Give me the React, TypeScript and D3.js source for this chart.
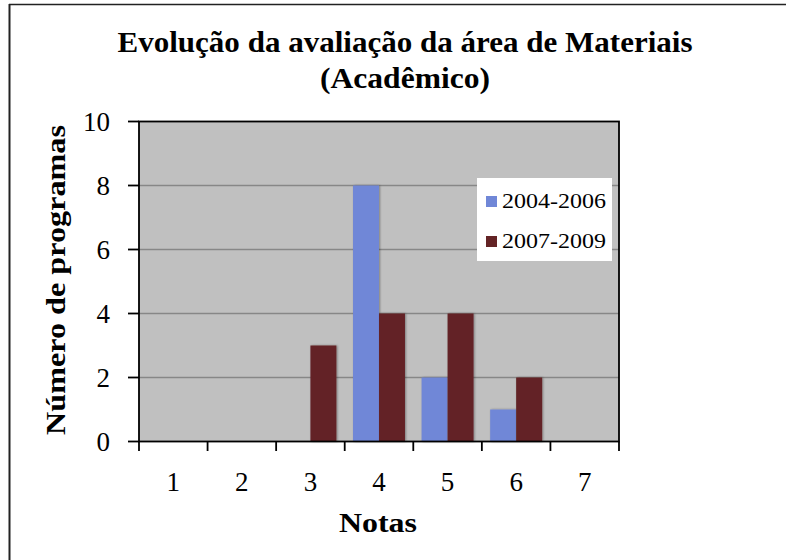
import React from "react";
import * as d3 from "d3";

const notas: string[] = ["1", "2", "3", "4", "5", "6", "7"];
const series: string[] = ["2004-2006", "2007-2009"];
const valores2004: number[] = [0, 0, 0, 8, 2, 1, 0];
const valores2007: number[] = [0, 0, 3, 4, 4, 2, 0];
const yTicks: number[] = [0, 2, 4, 6, 8, 10];
const colors: string[] = ["#7087d7", "#632325"];

const width = 786;
const height = 560;
const plot = { left: 139, right: 619, top: 121.5, bottom: 441.5 };
const font = "'Liberation Serif', 'Times New Roman', serif";

const x = d3.scaleBand<string>().domain(notas).range([plot.left, plot.right]).padding(0);
const x1 = d3
  .scaleBand<string>()
  .domain(series)
  .range([0, x.bandwidth()])
  .paddingInner(0)
  .paddingOuter(0.32);
const y = d3.scaleLinear().domain([0, 10]).range([plot.bottom, plot.top]);

const allValues = [valores2004, valores2007];

const App = () => {
  return (
    <svg
      width={width}
      height={height}
      style={{ position: "absolute", left: 0, top: 0, background: "white" }}
      fontFamily={font}
    >
      <defs>
        <filter id="shadow" x="-20%" y="-5%" width="140%" height="110%">
          <feDropShadow dx="1" dy="0" stdDeviation="1" floodColor="#000" floodOpacity="0.35" />
        </filter>
      </defs>

      {/* outer frame */}
      <line x1={9.5} x2={9.5} y1={4} y2={height} stroke="#222" strokeWidth={2} />
      <line x1={9} x2={width} y1={4.5} y2={4.5} stroke="#222" strokeWidth={1.5} />

      {/* title */}
      <text x={405} y={52} textAnchor="middle" fontSize={29} fontWeight="bold" textLength={575} lengthAdjust="spacingAndGlyphs">
        Evolução da avaliação da área de Materiais
      </text>
      <text x={405} y={88} textAnchor="middle" fontSize={29} fontWeight="bold" textLength={170} lengthAdjust="spacingAndGlyphs">
        (Acadêmico)
      </text>

      {/* plot background */}
      <rect
        x={plot.left}
        y={plot.top}
        width={plot.right - plot.left}
        height={plot.bottom - plot.top}
        fill="#c0c0c0"
      />

      {/* gridlines */}
      {yTicks
        .filter((t) => t > 0 && t < 10)
        .map((t) => (
          <line key={t} x1={plot.left} x2={plot.right} y1={y(t)} y2={y(t)} stroke="#878787" strokeWidth={1.5} />
        ))}

      {/* bars */}
      {notas.map((n, i) => (
        <g key={n} transform={`translate(${x(n)},0)`}>
          {series.map((s, j) => {
            const v = allValues[j][i];
            if (!v) return null;
            return (
              <rect
                key={s}
                x={x1(s)}
                y={y(v)}
                width={x1.bandwidth()}
                height={y(0) - y(v)}
                fill={colors[j]}
                filter="url(#shadow)"
              />
            );
          })}
        </g>
      ))}

      {/* plot frame */}
      <rect
        x={plot.left}
        y={plot.top}
        width={plot.right - plot.left}
        height={plot.bottom - plot.top}
        fill="none"
        stroke="#000"
        strokeWidth={1.8}
      />

      {/* y axis ticks + labels */}
      {yTicks.map((t) => (
        <g key={t}>
          <line x1={128} x2={plot.left} y1={y(t)} y2={y(t)} stroke="#000" strokeWidth={1.8} />
          <text x={110} y={y(t)} dy="0.34em" textAnchor="end" fontSize={27}>
            {t}
          </text>
        </g>
      ))}

      {/* x axis ticks + labels */}
      {[...notas.map((n) => x(n) as number), plot.right].map((px, i) => (
        <line key={i} x1={px} x2={px} y1={plot.bottom} y2={451} stroke="#000" strokeWidth={1.8} />
      ))}
      {notas.map((n) => (
        <text key={n} x={(x(n) as number) + x.bandwidth() / 2} y={491} textAnchor="middle" fontSize={27}>
          {n}
        </text>
      ))}

      {/* axis titles */}
      <text x={378} y={532} textAnchor="middle" fontSize={28} fontWeight="bold" textLength={78} lengthAdjust="spacingAndGlyphs">
        Notas
      </text>
      <text
        transform={`translate(65, 280) rotate(-90)`}
        textAnchor="middle"
        fontSize={28}
        fontWeight="bold"
        textLength={310}
        lengthAdjust="spacingAndGlyphs"
      >
        Número de programas
      </text>

      {/* legend */}
      <rect x={477} y={178} width={135} height={83} fill="#fff" />
      {series.map((s, j) => (
        <g key={s} transform={`translate(486, ${196 + j * 40})`}>
          <rect x={0} y={0} width={11} height={11} fill={colors[j]} />
          <text x={16} y={12} fontSize={22} textLength={104} lengthAdjust="spacingAndGlyphs">
            {s}
          </text>
        </g>
      ))}
    </svg>
  );
};

export default App;
